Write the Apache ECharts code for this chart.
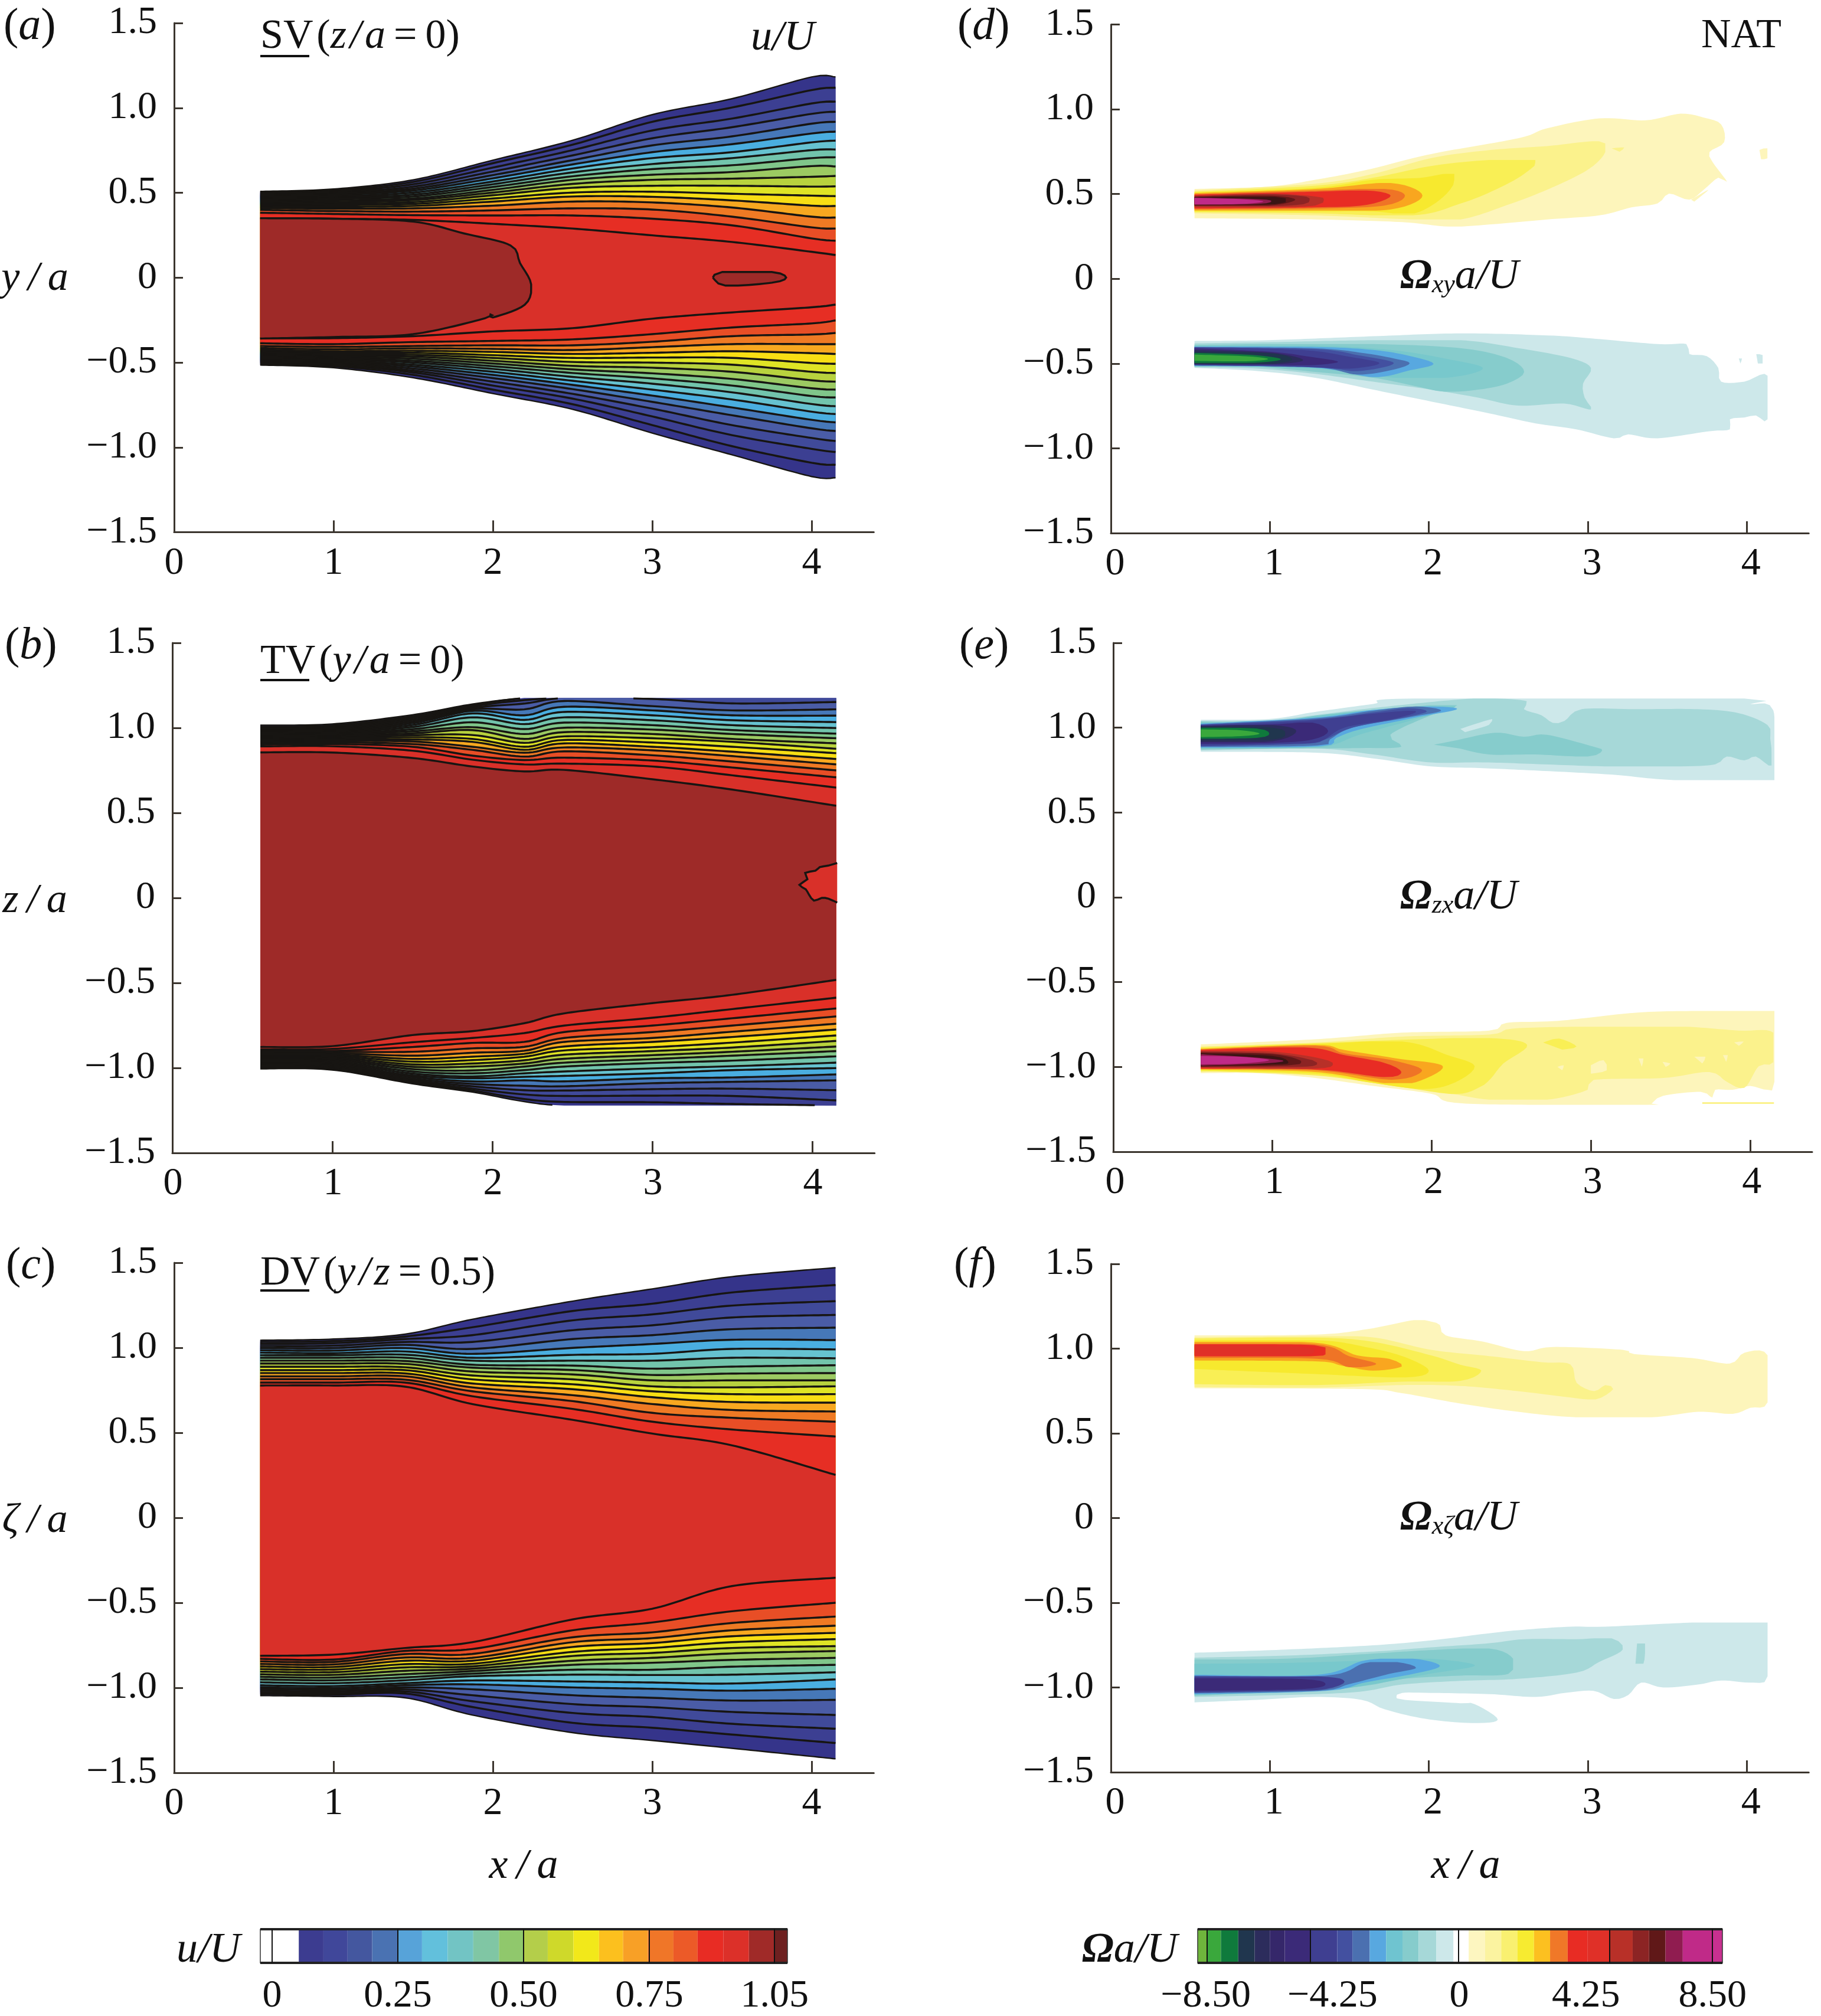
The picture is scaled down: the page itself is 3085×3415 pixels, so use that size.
<!DOCTYPE html>
<html><head><meta charset="utf-8">
<style>html,body{margin:0;padding:0;background:#fff}#c{width:3085px;height:3415px}</style>
<script src="https://cdn.jsdelivr.net/npm/echarts@6/dist/echarts.min.js"></script>
</head><body><div id="c"></div>
<script>
// ---------- colour levels ----------
const bandColors=['#35348a','#3c3f92','#404a9a','#4a5ca6','#4678b8','#4aaee0','#66c2d0','#72c4ac','#80c68a','#9cca62','#b8d23e','#dfe425','#f8de14','#f8a820','#ef7a24','#e84e26','#e62e24','#d93029','#9e2a28'];
const coreBrown='#9e2a28';
const posColors=[null,'#fdf5bb','#fbf28c','#f9ef55','#f7e92e','#f9a61f','#ef7426','#e82c24','#b83028','#8c2424','#601818','#3a1414','#901c50','#c02a88','#e03028'];
const negColors=[null,'#cde8ea','#a6d8d8','#86cccc','#78c8cc','#58a8e0','#4b70b0','#4350a0','#3f3f91','#3b2a78','#2c2c5c','#20364e','#0f7a3c','#3aa83c'];
const uBarEdges=[-0.0235,0.053,0.102,0.150,0.199,0.250,0.298,0.349,0.400,0.451,0.500,0.548,0.599,0.650,0.698,0.747,0.798,0.846,0.897,0.948,0.999,1.0246];
const uBarColors=['#ffffff','#3c3c90','#40479a','#44579f','#4a72b2','#57a3d9','#62c0dc','#72c4c4','#80c6a4','#90c86c','#b4ce4a','#cfd92a','#f2e81a','#fcc01e','#f8a026','#f07628','#ec5a28','#e82c24','#dc3029','#a02a28','#6e2020'];
const uBarTicks=[0,0.25,0.5,0.75,0.999];
const uBarLabels=['0','0.25','0.50','0.75','1.05'];
const wBarEdges=[-8.77,-8.46,-7.99,-7.41,-6.86,-6.35,-5.85,-4.99,-4.09,-3.58,-3.0,-2.45,-1.90,-1.36,-0.77,-0.19,0.32,0.87,1.41,1.96,2.51,3.05,3.64,4.3,5.04,5.82,6.37,6.92,7.5,8.48,8.83];
const wBarColors=['#6fb53c','#3aa83c','#0f7a3c','#20364e','#2c2c5c','#35276a','#3b2a78','#3f3f91','#4350a0','#4b70b0','#58a8e0','#6fc4d0','#86cccc','#a6d8d8','#cde8ea','#ffffff','#fdf6c0','#fbf3a0','#f9f070','#f7eb30','#fcc020','#f07828','#e82c24','#e03028','#b83028','#8c2424','#601818','#901c50','#c02a88','#c83090'];
const wBarTicks=[-8.46,-4.99,-0.02,5.04,8.48];
const wBarLabelAt=[-8.5,-4.25,0,4.25,8.5];

// ---------- axis ticks ----------
const xTicks=[0,1,2,3,4];
const yTicks=[-1.5,-1,-0.5,0,0.5,1,1.5];

// ---------- contour lines: one row per x station, [edge, line 1 ... line n] ----------
const svX=[0.54,1,1.5,2,2.5,3,3.5,4.0,4.15];
const svUpper=[
[.508,.501,.494,.487,.480,.473,.466,.459,.452,.445,.438,.431,.424,.417,.410,.399,.382,.350],
[.522,.515,.508,.501,.494,.487,.478,.471,.464,.455,.445,.436,.427,.417,.406,.392,.375,.347],
[.576,.564,.550,.536,.524,.513,.501,.489,.478,.466,.457,.445,.434,.422,.408,.389,.368,.340],
[.692,.674,.648,.625,.604,.585,.566,.550,.534,.517,.501,.485,.466,.448,.424,.396,.366,.317],
[.809,.783,.751,.720,.692,.667,.643,.620,.597,.576,.552,.529,.501,.478,.448,.408,.366,.289],
[.960,.918,.867,.821,.779,.739,.704,.669,.639,.606,.576,.541,.506,.476,.443,.401,.347,.249],
[1.054,1.002,.937,.886,.832,.786,.739,.704,.662,.622,.583,.541,.494,.455,.413,.359,.308,.210],
[1.182,1.105,1.026,.965,.907,.849,.797,.751,.704,.657,.594,.536,.483,.424,.359,.296,.231,.152],
[1.182,1.119,1.037,.977,.918,.860,.807,.755,.709,.655,.599,.538,.480,.422,.354,.289,.217,.133]];
const svLower=[
[-.515,-.508,-.501,-.494,-.487,-.480,-.473,-.466,-.459,-.452,-.445,-.438,-.431,-.424,-.415,-.403,-.387,-.357],
[-.531,-.522,-.515,-.508,-.501,-.494,-.487,-.480,-.473,-.466,-.459,-.452,-.443,-.434,-.422,-.408,-.392,-.357],
[-.590,-.573,-.559,-.548,-.536,-.524,-.513,-.501,-.490,-.478,-.466,-.455,-.443,-.431,-.417,-.403,-.380,-.345],
[-.683,-.660,-.636,-.613,-.592,-.573,-.555,-.538,-.522,-.506,-.490,-.473,-.457,-.438,-.420,-.399,-.373,-.317],
[-.776,-.746,-.713,-.685,-.657,-.632,-.608,-.585,-.562,-.541,-.520,-.497,-.473,-.450,-.427,-.399,-.364,-.298],
[-.916,-.869,-.818,-.772,-.732,-.695,-.660,-.625,-.594,-.564,-.531,-.501,-.471,-.443,-.410,-.378,-.333,-.242],
[-1.044,-.993,-.928,-.869,-.811,-.765,-.718,-.676,-.636,-.597,-.555,-.513,-.473,-.434,-.392,-.345,-.294,-.205],
[-1.172,-1.091,-1.009,-.945,-.888,-.838,-.790,-.745,-.698,-.652,-.605,-.555,-.503,-.445,-.392,-.335,-.270,-.175],
[-1.179,-1.103,-1.028,-.963,-.904,-.853,-.804,-.758,-.706,-.660,-.613,-.562,-.508,-.450,-.392,-.326,-.252,-.159]];
const svCoreBlob=[[.54,.350],[1,.347],[1.5,.33],[1.82,.26],[2.11,.19],[2.17,.086],[2.24,-.04],[2.2,-.16],[2.0,-.235],[1.985,-.217],[1.95,-.24],[1.5,-.333],[1,-.35],[.54,-.359]];
const svCoreIsland=[[3.38,0],[3.44,.033],[3.75,.033],[3.84,0],[3.75,-.03],[3.46,-.047],[3.38,0]];

const tvX=[0.55,1,1.5,1.875,2.2,2.45,3,3.5,4.15];
const tvUpper=[
[1.016,1.007,1.000,.993,.986,.979,.972,.965,.958,.951,.944,.937,.930,.923,.916,.909,.902,.891,.856],
[1.023,1.014,1.007,1.000,.993,.986,.979,.972,.965,.958,.951,.944,.937,.930,.923,.915,.905,.892,.855],
[1.077,1.068,1.058,1.048,1.038,1.028,1.017,1.005,.992,.980,.968,.957,.945,.932,.920,.905,.889,.866,.823],
[1.140,1.134,1.126,1.117,1.109,1.100,1.085,1.062,1.033,1.004,.987,.958,.935,.918,.889,.871,.837,.813,.773],
[1.175,1.175,1.163,1.143,1.109,1.074,1.047,1.022,.993,.964,.935,.912,.889,.871,.854,.831,.811,.785,.744],
[1.175,1.175,1.175,1.175,1.158,1.124,1.094,1.062,1.031,1.001,.975,.950,.929,.909,.885,.862,.825,.790,.753],
[1.175,1.175,1.175,1.170,1.128,1.103,1.074,1.045,1.016,.990,.964,.939,.914,.889,.868,.839,.808,.773,.698],
[1.175,1.175,1.175,1.144,1.103,1.074,1.045,1.016,.987,.964,.935,.918,.889,.860,.834,.802,.767,.721,.637],
[1.175,1.175,1.175,1.152,1.109,1.072,1.034,.999,.966,.939,.909,.877,.851,.817,.785,.750,.709,.649,.542]];
const tvLower=[
[-1.005,-.998,-.993,-.988,-.982,-.976,-.969,-.962,-.955,-.948,-.941,-.934,-.927,-.920,-.913,-.906,-.900,-.891,-.877],
[-1.012,-1.008,-1.003,-.998,-.992,-.986,-.978,-.970,-.962,-.954,-.946,-.938,-.930,-.922,-.914,-.906,-.900,-.888,-.872],
[-1.093,-1.086,-1.079,-1.072,-1.063,-1.053,-1.044,-1.033,-1.021,-1.007,-.993,-.979,-.963,-.947,-.928,-.905,-.877,-.849,-.807],
[-1.142,-1.133,-1.122,-1.108,-1.094,-1.079,-1.061,-1.050,-1.032,-1.015,-.992,-.974,-.954,-.934,-.911,-.885,-.853,-.824,-.784],
[-1.198,-1.183,-1.156,-1.131,-1.105,-1.073,-1.052,-1.032,-1.013,-.992,-.974,-.955,-.934,-.917,-.899,-.876,-.847,-.795,-.737],
[-1.221,-1.200,-1.165,-1.133,-1.108,-1.079,-1.047,-1.021,-.992,-.969,-.946,-.922,-.897,-.874,-.847,-.824,-.789,-.751,-.679],
[-1.221,-1.202,-1.163,-1.125,-1.090,-1.061,-1.032,-1.003,-.971,-.948,-.925,-.901,-.878,-.847,-.824,-.789,-.751,-.705,-.619],
[-1.221,-1.212,-1.165,-1.122,-1.082,-1.056,-1.013,-.990,-.957,-.928,-.905,-.880,-.851,-.818,-.787,-.751,-.708,-.654,-.570],
[-1.221,-1.221,-1.191,-1.131,-1.073,-1.038,-1.001,-.969,-.932,-.901,-.874,-.841,-.809,-.774,-.740,-.697,-.650,-.587,-.482]];
const tvCoreHole=[[4.156,.205],[4.10,.19],[4.047,.181],[4.02,.16],[3.956,.147],[3.97,.11],[3.92,.077],[3.96,.05],[3.98,.019],[4.011,-.016],[4.06,.0],[4.102,-.005],[4.156,-.028]];

const dvX=[0.54,1,1.45,1.87,2.5,3,3.5,4.15];
const dvUpper=[
[1.044,1.034,1.022,1.010,.998,.985,.971,.956,.941,.924,.907,.888,.868,.851,.832,.815,.795,.778],
[1.051,1.039,1.027,1.012,.998,.983,.968,.956,.941,.924,.907,.888,.868,.851,.832,.815,.795,.778],
[1.080,1.066,1.051,1.034,1.017,.998,.978,.959,.941,.922,.905,.885,.868,.849,.832,.812,.795,.771],
[1.167,1.120,1.074,1.034,.993,.964,.941,.924,.900,.883,.860,.837,.814,.790,.767,.744,.715,.669],
[1.274,1.216,1.161,1.103,1.051,.999,.958,.924,.895,.869,.843,.814,.785,.756,.721,.686,.640,.576],
[1.346,1.259,1.196,1.132,1.074,1.022,.964,.924,.877,.840,.808,.773,.744,.709,.669,.617,.565,.495],
[1.418,1.325,1.248,1.178,1.109,1.047,.993,.941,.889,.848,.808,.767,.727,.681,.634,.588,.519,.426],
[1.471,1.369,1.274,1.193,1.118,1.045,.990,.938,.897,.851,.808,.773,.727,.677,.625,.565,.478,.252]];
const dvLower=[
[-1.046,-1.036,-1.027,-1.017,-1.007,-.997,-.985,-.968,-.951,-.936,-.921,-.905,-.890,-.875,-.860,-.845,-.830,-.812],
[-1.051,-1.041,-1.032,-1.022,-1.012,-1.002,-.990,-.973,-.956,-.940,-.924,-.908,-.893,-.878,-.863,-.848,-.834,-.805],
[-1.059,-1.034,-1.022,-1.010,-.998,-.985,-.973,-.956,-.939,-.920,-.900,-.880,-.861,-.841,-.822,-.802,-.783,-.766],
[-1.160,-1.113,-1.079,-1.044,-1.009,-.980,-.957,-.932,-.917,-.902,-.888,-.874,-.859,-.841,-.824,-.801,-.772,-.732],
[-1.264,-1.206,-1.148,-1.096,-1.044,-.998,-.963,-.923,-.894,-.865,-.841,-.813,-.789,-.760,-.732,-.703,-.662,-.598],
[-1.310,-1.235,-1.172,-1.114,-1.059,-1.006,-.969,-.925,-.894,-.853,-.824,-.795,-.766,-.737,-.708,-.674,-.616,-.535],
[-1.356,-1.275,-1.212,-1.142,-1.075,-1.017,-.975,-.923,-.876,-.836,-.798,-.766,-.732,-.697,-.662,-.619,-.550,-.402],
[-1.418,-1.325,-1.241,-1.160,-1.071,-1.006,-.951,-.909,-.865,-.824,-.784,-.755,-.714,-.677,-.635,-.581,-.500,-.353]];

// ---------- vorticity contours: [colour level, [x,y], ...] from outside to inside ----------
const dPos=[
[1,[.526,.530],[.993,.544],[1.285,.584],[1.613,.643],[2.015,.736],[2.562,.829],[2.745,.888],[3.073,.946],[3.365,.935],[3.584,.974],[3.73,.951],[3.839,.911],[3.858,.806],[3.766,.748],[3.785,.689],[3.876,.572],[3.821,.596],[3.73,.526],[3.639,.467],[3.511,.502],[3.438,.444],[3.274,.421],[3.073,.374],[2.745,.350],[2.38,.320],[2.124,.308],[1.832,.334],[1.285,.350],[.526,.357]],
[1,[4.08,.76],[4.13,.77],[4.13,.71],[4.09,.705]],
[1,[3.65,.467],[3.76,.526],[3.67,.455]],
[2,[.526,.521],[1.285,.561],[1.65,.619],[2.02,.713],[2.38,.759],[2.745,.783],[3.07,.811],[3.11,.748],[3.0,.643],[2.75,.528],[2.49,.434],[2.2,.35],[1.9,.35],[1.285,.374],[.526,.386]],
[2,[3.15,.77],[3.23,.775],[3.2,.75]],
[3,[.526,.514],[1.285,.549],[1.65,.596],[2.02,.666],[2.38,.701],[2.67,.701],[2.6,.619],[2.42,.526],[2.2,.444],[1.9,.374],[1.285,.386],[.526,.393]],
[4,[.526,.51],[1.285,.537],[1.65,.584],[1.94,.595],[2.16,.619],[2.11,.50],[1.91,.386],[1.65,.397],[1.285,.397],[.526,.397]],
[5,[.526,.505],[1.285,.53],[1.76,.565],[1.96,.49],[1.76,.409],[1.285,.402],[.526,.402]],
[6,[.526,.50],[1.285,.521],[1.72,.53],[1.85,.49],[1.72,.432],[1.285,.414],[.526,.409]],
[7,[.526,.496],[1.285,.514],[1.61,.521],[1.76,.49],[1.61,.436],[1.285,.421],[.526,.414]],
[8,[.526,.491],[.99,.502],[1.285,.486],[1.34,.467],[1.285,.432],[.99,.421],[.526,.421]],
[9,[.526,.486],[.99,.498],[1.23,.484],[1.25,.463],[1.21,.44],[.99,.428],[.526,.428]],
[10,[.526,.484],[.99,.49],[1.16,.467],[.99,.432],[.526,.432]],
[11,[.526,.481],[1.03,.483],[1.10,.463],[1.03,.44],[.526,.435]],
[12,[.526,.479],[.92,.47],[1.01,.458],[.92,.441],[.526,.437]],
[13,[.526,.477],[.81,.47],[.96,.456],[.81,.441],[.526,.439]]];
const dNeg=[
[1,[.526,-.367],[.993,-.362],[1.65,-.339],[2.197,-.322],[2.745,-.334],[3.0,-.35],[3.438,-.385],[3.62,-.385],[3.639,-.444],[3.748,-.456],[3.821,-.526],[3.839,-.607],[3.985,-.607],[4.131,-.572],[4.131,-.829],[4.058,-.806],[3.985,-.818],[3.894,-.829],[3.894,-.888],[3.766,-.899],[3.438,-.941],[3.255,-.918],[3.164,-.941],[2.927,-.888],[2.672,-.853],[2.38,-.794],[2.015,-.724],[1.65,-.654],[1.285,-.584],[.92,-.544],[.526,-.526]],
[1,[4.06,-.445],[4.10,-.45],[4.10,-.50],[4.07,-.50]],
[1,[3.95,-.47],[3.97,-.47],[3.96,-.50]],
[2,[.526,-.381],[.993,-.374],[1.65,-.362],[2.197,-.362],[2.562,-.409],[2.89,-.467],[3.02,-.526],[2.97,-.619],[2.98,-.701],[3.02,-.771],[2.85,-.736],[2.56,-.748],[2.31,-.701],[2.015,-.654],[1.65,-.607],[1.285,-.561],[.92,-.53],[.526,-.522]],
[3,[.526,-.39],[.993,-.385],[1.65,-.385],[2.197,-.409],[2.49,-.467],[2.6,-.549],[2.49,-.619],[2.31,-.654],[2.1,-.666],[1.9,-.63],[1.65,-.584],[1.285,-.549],[.92,-.52],[.526,-.518]],
[4,[.526,-.395],[1.285,-.395],[1.76,-.42],[2.1,-.47],[2.34,-.526],[2.15,-.58],[1.8,-.585],[1.285,-.53],[.526,-.516]],
[5,[.526,-.40],[1.285,-.402],[1.65,-.42],[1.88,-.455],[2.03,-.502],[1.88,-.54],[1.65,-.58],[1.285,-.525],[.526,-.514]],
[6,[.526,-.402],[1.285,-.41],[1.6,-.44],[1.78,-.47],[1.88,-.498],[1.78,-.535],[1.55,-.565],[1.285,-.522],[.526,-.512]],
[7,[.526,-.404],[1.285,-.415],[1.55,-.45],[1.78,-.498],[1.55,-.545],[1.285,-.52],[.526,-.51]],
[8,[.526,-.405],[1.2,-.42],[1.5,-.46],[1.69,-.498],[1.5,-.53],[1.2,-.52],[.526,-.508]],
[9,[.526,-.41],[1.0,-.43],[1.25,-.46],[1.43,-.49],[1.25,-.51],[1.0,-.507],[.526,-.506]],
[10,[.526,-.42],[1.0,-.435],[1.21,-.48],[1.0,-.505],[.526,-.504]],
[11,[.526,-.43],[1.0,-.44],[1.14,-.475],[1.0,-.50],[.526,-.502]],
[12,[.526,-.437],[.9,-.45],[1.07,-.475],[.9,-.495],[.526,-.496]],
[13,[.526,-.447],[.85,-.457],[.99,-.473],[.85,-.487],[.526,-.484]]];
const eNeg=[
[1,[.55,1.047],[.976,1.051],[1.268,1.093],[1.632,1.14],[1.887,1.172],[3.964,1.172],[4.0,1.14],[4.146,1.102],[4.153,.702],[4.109,.691],[3.526,.691],[3.089,.726],[2.361,.760],[1.996,.772],[1.632,.819],[1.268,.853],[.55,.858]],
[2,[.55,1.04],[.976,1.044],[1.268,1.074],[1.632,1.116],[2.178,1.167],[2.397,1.172],[2.597,1.156],[2.579,1.109],[2.689,1.074],[2.761,1.028],[2.834,1.04],[2.943,1.109],[3.271,1.109],[3.672,1.109],[3.927,1.086],[4.109,1.016],[4.127,.935],[4.135,.777],[4.036,.83],[3.964,.807],[3.854,.83],[3.781,.784],[3.563,.772],[3.089,.772],[2.361,.795],[1.996,.795],[1.632,.842],[1.268,.877],[.55,.866]],
[1,[2.18,.993],[2.38,1.051],[2.36,1.016],[2.21,.974]],
[3,[.55,1.036],[.976,1.03],[1.268,1.063],[1.632,1.102],[1.996,1.133],[2.16,1.133],[1.996,1.074],[1.74,.958],[1.81,.888],[1.55,.88],[1.268,.878],[.55,.872]],
[3,[2.015,.90],[2.142,.923],[2.397,.97],[2.579,.947],[2.725,.958],[3.016,.888],[3.071,.865],[2.98,.83],[2.652,.842],[2.361,.842],[2.178,.877]],
[4,[.55,1.03],[.976,1.03],[1.268,1.07],[1.632,1.105],[1.9,1.12],[2.15,1.125],[1.9,1.05],[1.55,.96],[1.4,.905],[1.25,.885],[.55,.878]],
[5,[.55,1.024],[1.268,1.06],[1.632,1.105],[1.95,1.125],[2.16,1.11],[1.9,1.06],[1.55,.99],[1.40,.94],[1.3,.89],[.55,.882]],
[6,[.55,1.02],[1.268,1.055],[1.632,1.10],[1.9,1.125],[2.06,1.10],[1.85,1.06],[1.5,1.0],[1.36,.93],[1.28,.895],[.55,.886]],
[7,[.55,1.018],[1.268,1.05],[1.632,1.09],[1.85,1.115],[1.97,1.095],[1.8,1.055],[1.5,1.0],[1.33,.93],[1.2,.905],[.55,.89]],
[8,[.55,1.015],[1.2,1.04],[1.6,1.08],[1.85,1.10],[1.9,1.09],[1.75,1.05],[1.45,1.0],[1.3,.92],[1.1,.905],[.55,.895]],
[9,[.55,1.012],[1.0,1.02],[1.25,1.03],[1.35,.98],[1.25,.93],[1.0,.91],[.55,.905]],
[10,[.55,1.01],[1.0,1.015],[1.15,.98],[1.0,.92],[.55,.915]],
[11,[.55,1.005],[1.0,1.0],[1.08,.965],[1.0,.93],[.55,.925]],
[12,[.55,1.0],[.9,.995],[.98,.965],[.9,.94],[.55,.935]],
[13,[.55,.99],[.8,.985],[.92,.965],[.8,.95],[.55,.945]]];
const ePos=[
[1,[.55,-.867],[1.268,-.837],[1.814,-.798],[2.361,-.786],[2.47,-.74],[2.798,-.728],[3.271,-.681],[3.636,-.67],[4.109,-.67],[4.153,-.674],[4.153,-1.088],[4.109,-1.135],[4.0,-1.112],[3.891,-1.135],[3.781,-1.135],[3.763,-1.181],[3.69,-1.147],[3.454,-1.17],[3.381,-1.216],[3.344,-1.223],[2.215,-1.216],[1.996,-1.158],[1.632,-1.112],[1.268,-1.065],[.903,-1.037],[.55,-1.037]],
[2,[3.7,-1.208],[4.15,-1.208],[4.15,-1.218],[3.7,-1.218]],
[2,[.55,-.879],[1.268,-.856],[1.814,-.821],[2.361,-.809],[2.506,-.774],[2.907,-.763],[3.271,-.763],[3.599,-.763],[3.927,-.786],[4.146,-.798],[4.146,-.972],[4.055,-.995],[3.964,-1.123],[3.854,-1.088],[3.745,-1.03],[3.454,-1.065],[3.016,-1.077],[2.98,-1.135],[2.725,-1.193],[2.361,-1.193],[1.996,-1.135],[1.632,-1.088],[1.268,-1.042],[.903,-1.019],[.55,-1.03]],
[1,[3.0,-.99],[3.08,-.96],[3.1,-1.02],[3.0,-1.04]],[1,[2.79,-1.0],[2.83,-.99],[2.82,-1.02]],[1,[3.3,-.95],[3.33,-.95],[3.32,-1.0]],[1,[3.45,-.97],[3.5,-.98],[3.47,-1.0]],[1,[3.65,-.94],[3.72,-.94],[3.7,-.98]],[1,[3.83,-.93],[3.86,-.93],[3.85,-.97]],[1,[3.9,-.855],[3.96,-.85],[3.93,-.875]],
[3,[.55,-.884],[1.268,-.86],[1.814,-.84],[2.361,-.83],[2.6,-.87],[2.45,-.98],[2.37,-1.07],[2.3,-1.12],[2.15,-1.16],[1.814,-1.12],[1.268,-1.05],[.55,-1.025]],
[3,[2.7,-.856],[2.8,-.833],[2.91,-.88],[2.82,-.898]],
[4,[.55,-.89],[1.268,-.865],[1.814,-.85],[2.1,-.93],[2.27,-.995],[2.15,-1.09],[1.95,-1.13],[1.6,-1.09],[1.268,-1.04],[.55,-1.02]],
[5,[.55,-.893],[1.268,-.87],[1.45,-.90],[1.78,-.95],[2.07,-.995],[1.9,-1.09],[1.7,-1.095],[1.268,-1.03],[.55,-1.015]],
[6,[.55,-.896],[1.268,-.875],[1.45,-.92],[1.75,-.96],[1.94,-1.02],[1.75,-1.075],[1.268,-1.02],[.55,-1.012]],
[7,[.55,-.90],[1.2,-.885],[1.45,-.93],[1.7,-.975],[1.81,-1.03],[1.7,-1.06],[1.268,-1.015],[.55,-1.01]],
[8,[.55,-.905],[1.0,-.91],[1.3,-.95],[1.38,-.985],[1.25,-1.01],[.55,-1.005]],
[9,[.55,-.91],[1.0,-.92],[1.25,-.96],[1.28,-.985],[1.15,-1.0],[.55,-1.0]],
[10,[.55,-.915],[1.0,-.925],[1.18,-.965],[1.1,-.99],[.55,-.998]],
[11,[.55,-.92],[1.0,-.935],[1.1,-.975],[1.0,-.985],[.55,-.995]],
[12,[.55,-.925],[.9,-.945],[1.07,-.965],[.9,-.982],[.55,-.992]],
[13,[.55,-.935],[.8,-.94],[.98,-.96],[.8,-.98],[.55,-.985]]];
const fPos=[
[1,[.526,1.078],[1.285,1.083],[1.613,1.115],[1.905,1.168],[2.015,1.159],[2.07,1.139],[2.106,1.078],[2.343,1.041],[2.599,.985],[2.781,1.01],[3.219,.993],[3.292,.968],[3.657,.944],[3.894,.912],[3.985,.976],[4.131,.961],[4.131,.683],[4.022,.651],[3.912,.615],[3.693,.627],[3.401,.595],[2.927,.595],[2.562,.627],[2.197,.676],[1.832,.737],[1.577,.761],[.526,.766]],
[2,[.526,1.066],[1.285,1.073],[1.65,1.066],[2.015,.993],[2.38,.956],[2.71,.92],[2.89,.907],[2.93,.798],[3.04,.749],[3.11,.785],[3.16,.761],[3.05,.70],[2.89,.712],[2.56,.749],[2.197,.78],[1.83,.785],[1.285,.77],[.526,.773]],
[3,[.526,1.06],[1.285,1.065],[1.65,1.04],[2.015,.96],[2.197,.905],[2.33,.87],[2.2,.81],[1.83,.805],[1.285,.785],[.526,.79]],
[4,[.526,1.05],[1.285,1.05],[1.6,1.01],[1.85,.95],[2.0,.87],[1.85,.83],[1.285,.85],[.526,.88]],
[5,[.526,1.04],[1.285,1.035],[1.55,.96],[1.75,.94],[1.83,.895],[1.65,.87],[1.45,.90],[1.285,.925],[.526,.93]],
[6,[.526,1.03],[1.285,1.025],[1.5,.955],[1.67,.91],[1.5,.89],[1.3,.94],[.526,.945]],
[7,[.526,1.025],[1.28,1.02],[1.35,.975],[1.25,.955],[.526,.955]],
[14,[.526,1.02],[1.2,1.01],[1.28,.98],[1.15,.96],[.526,.96]]];
const fNeg=[
[1,[.526,-.795],[1.102,-.776],[1.65,-.751],[2.015,-.722],[2.38,-.68],[2.599,-.659],[2.891,-.641],[3.109,-.641],[3.657,-.617],[3.949,-.617],[4.131,-.617],[4.131,-.934],[4.04,-.971],[3.839,-.959],[3.693,-.983],[3.474,-1.0],[3.336,-.971],[3.255,-1.044],[3.164,-1.068],[3.036,-1.02],[2.854,-1.032],[2.672,-1.056],[2.38,-1.039],[2.015,-1.032],[1.832,-1.032],[1.796,-1.056],[1.85,-1.073],[2.197,-1.093],[2.288,-1.098],[2.434,-1.19],[2.27,-1.21],[1.978,-1.185],[1.723,-1.129],[1.577,-1.073],[1.285,-1.056],[.92,-1.073],[.526,-1.088]],
[2,[.526,-.824],[1.102,-.812],[1.65,-.788],[2.015,-.763],[2.38,-.739],[2.6,-.715],[2.93,-.715],[3.15,-.71],[3.22,-.776],[3.07,-.85],[2.93,-.912],[2.56,-.949],[2.197,-.961],[1.83,-.983],[1.47,-1.032],[.526,-1.056]],
[2,[3.31,-.74],[3.36,-.74],[3.35,-.86],[3.3,-.86]],
[3,[.526,-.835],[1.1,-.83],[1.65,-.80],[2.0,-.78],[2.38,-.77],[2.53,-.83],[2.5,-.92],[2.197,-.93],[1.83,-.95],[1.5,-1.0],[.526,-1.05]],
[4,[.526,-.86],[1.1,-.855],[1.65,-.84],[2.0,-.83],[2.29,-.87],[2.0,-.92],[1.65,-.98],[1.3,-1.02],[.526,-1.045]],
[5,[.526,-.925],[1.3,-.925],[1.6,-.84],[1.9,-.83],[2.07,-.873],[1.9,-.92],[1.6,-.97],[1.35,-1.02],[.526,-1.04]],
[6,[.526,-.93],[1.35,-.93],[1.6,-.855],[1.8,-.85],[1.92,-.885],[1.75,-.92],[1.5,-.98],[1.3,-1.02],[.526,-1.035]],
[8,[.526,-.935],[1.3,-.935],[1.47,-.965],[1.35,-1.01],[1.1,-1.02],[.526,-1.03]],
[9,[.526,-.945],[1.2,-.95],[1.35,-.98],[1.2,-1.01],[.526,-1.02]]];

// ---------- layout (pixels of the page) ----------
const panels=[
 {left:295,top:39,h:862.5,unit:270,lblShift:0,kind:'band',xs:svX,up:svUpper,lo:svLower,extra:[[svCoreBlob,coreBrown],[svCoreIsland,coreBrown]]},
 {left:1882,top:41.5,h:861.5,unit:269.3,lblShift:14,kind:'blob',pos:dPos,neg:dNeg},
 {left:292,top:1089,h:864,unit:271,lblShift:2,kind:'band',xs:tvX,up:tvUpper,lo:tvLower,extra:[[tvCoreHole,'#d93029']]},
 {left:1886,top:1089,h:862,unit:269.7,lblShift:6,kind:'blob',pos:ePos,neg:eNeg},
 {left:295,top:2139,h:864,unit:270,lblShift:0,kind:'band',xs:dvX,up:dvUpper,lo:dvLower,extra:[]},
 {left:1882,top:2141,h:861,unit:269.3,lblShift:14,kind:'blob',pos:fPos,neg:fNeg}];
const XMAX=4.39;
const SERIF='"Liberation Serif","Times New Roman",serif';
const AXC='#3b352e';
const LBL=66;

function spline(pts,box){
  const out=[];const n=pts.length;
  for(let i=0;i<n-1;i++){
    const p0=pts[Math.max(i-1,0)],p1=pts[i],p2=pts[i+1],p3=pts[Math.min(i+2,n-1)];
    const steps=Math.max(2,Math.min(30,Math.round(Math.hypot(p2[0]-p1[0],p2[1]-p1[1])/8)));
    for(let k=0;k<steps;k++){
      const t=k/steps,t2=t*t,t3=t2*t;
      out.push([
        .5*(2*p1[0]+(p2[0]-p0[0])*t+(2*p0[0]-5*p1[0]+4*p2[0]-p3[0])*t2+(3*p1[0]-p0[0]-3*p2[0]+p3[0])*t3),
        .5*(2*p1[1]+(p2[1]-p0[1])*t+(2*p0[1]-5*p1[1]+4*p2[1]-p3[1])*t2+(3*p1[1]-p0[1]-3*p2[1]+p3[1])*t3)]);
    }
  }
  out.push(pts[n-1].slice());
  if(box) out.forEach(p=>{p[0]=Math.min(box[1],Math.max(box[0],p[0]));p[1]=Math.min(box[3],Math.max(box[2],p[1]));});
  return out;
}
function bboxOf(pts){const xs=pts.map(p=>p[0]),ys=pts.map(p=>p[1]);return [Math.min(...xs),Math.max(...xs),Math.min(...ys),Math.max(...ys)];}

function shapesFor(p){
  const s=[];
  if(p.kind==='band'){
    const nL=p.up[0].length;
    const col=(tab,i)=>tab.map((r,k)=>[p.xs[k],r[i]]);
    for(let i=0;i<nL;i++) s.push({fill:bandColors[i],u:col(p.up,i),l:col(p.lo,i)});
    for(let i=0;i<nL;i++){s.push({line:col(p.up,i),edge:i===0});s.push({line:col(p.lo,i),edge:i===0});}
    p.extra.forEach(e=>s.push({poly:e[0],color:e[1],stroke:true}));
  }else{
    p.pos.concat(p.neg).forEach(b=>{
      const isNeg=p.neg.indexOf(b)>=0;
      s.push({poly:b.slice(1),color:(isNeg?negColors:posColors)[b[0]]});
    });
  }
  return s;
}
function makeRender(shapes,clipY){
  return function(params,api){
    const sh=shapes[params.dataIndex];
    const c=a=>api.coord(a);
    if(sh.fill){
      const u=spline(sh.u.map(c)),l=spline(sh.l.map(c));
      const pts=u.concat(l.reverse()).map(q=>[q[0],Math.min(clipY[1],Math.max(clipY[0],q[1]))]);
      return {type:'polygon',shape:{points:pts},style:{fill:sh.fill,stroke:null}};
    }
    if(sh.line){
      const raw=spline(sh.line.map(c));
      const runs=[];let cur=[];
      raw.forEach(q=>{
        const out=q[1]<=clipY[0]+.5||q[1]>=clipY[1]-.5;
        if(out){ if(cur.length>1) runs.push(cur); cur=[]; }
        else cur.push(q);
      });
      if(cur.length>1) runs.push(cur);
      return {type:'group',children:runs.map(r=>({type:'polyline',shape:{points:r},style:{stroke:'#171512',lineWidth:sh.edge?2.4:3.4,fill:null}}))};
    }
    const px=sh.poly.map(c);
    const pts=spline(px,bboxOf(px));
    const kids=[{type:'polygon',shape:{points:pts},style:{fill:sh.color,stroke:null}}];
    if(sh.stroke) kids.push({type:'polyline',shape:{points:pts},style:{stroke:'#171512',lineWidth:3.4,fill:null}});
    return {type:'group',children:kids};
  };
}

const grids=[],xAxes=[],yAxes=[],series=[];
panels.forEach((p,i)=>{
  grids.push({left:p.left,top:p.top,width:XMAX*p.unit,height:p.h,containLabel:false});
  xAxes.push({gridIndex:i,type:'value',min:0,max:XMAX,splitLine:{show:false},
    axisLine:{show:true,onZero:false,lineStyle:{color:AXC,width:3}},
    axisTick:{show:true,inside:true,length:20,lineStyle:{color:AXC,width:3},customValues:xTicks},
    axisLabel:{customValues:xTicks,fontFamily:SERIF,fontSize:LBL,color:'#111',margin:20,padding:[0,0,0,p.lblShift],formatter:v=>String(v)}});
  yAxes.push({gridIndex:i,type:'value',min:-1.5,max:1.5,interval:.5,splitLine:{show:false},
    axisLine:{show:true,onZero:false,lineStyle:{color:AXC,width:3}},
    axisTick:{show:true,inside:true,length:15,lineStyle:{color:AXC,width:3}},
    axisLabel:{fontFamily:SERIF,fontSize:LBL,color:'#111',margin:29,padding:[10,0,0,0],formatter:v=>v===0?'0':(v<0?'\u2212':'')+Math.abs(v).toFixed(1)}});
  const shapes=shapesFor(p);
  const top=p===panels[2]?p.top+p.h*(1.5-1.175)/3:-1e5;
  const bot=p===panels[2]?p.top+p.h*(1.5+1.221)/3:1e5;
  series.push({type:'custom',xAxisIndex:i,yAxisIndex:i,coordinateSystem:'cartesian2d',silent:true,animation:false,clip:false,progressive:0,z:2,
    renderItem:makeRender(shapes,[top,bot]),data:shapes.map((_,k)=>[k])});
});

// colour bars
function addBar(left,right,edges,colors,tickVals,labelVals,fmt){
  const i=grids.length;
  const min=edges[0],max=edges[edges.length-1];
  grids.push({left,top:3268,width:right-left,height:57});
  xAxes.push({gridIndex:i,type:'value',min,max,z:10,splitLine:{show:false},axisLine:{show:false},
    axisTick:{show:true,inside:true,length:57,lineStyle:{color:'#111',width:2},customValues:tickVals},
    axisLabel:{customValues:labelVals,fontFamily:SERIF,fontSize:LBL,color:'#111',margin:24,formatter:fmt}});
  yAxes.push({gridIndex:i,type:'value',min:0,max:1,show:false});
  const n=colors.length;
  series.push({type:'custom',xAxisIndex:i,yAxisIndex:i,coordinateSystem:'cartesian2d',silent:true,animation:false,progressive:0,z:2,clip:false,
    data:colors.map((_,k)=>[k]).concat([[n]]),
    renderItem:function(params,api){
      const k=params.dataIndex;
      const a=api.coord([k<n?edges[k]:min,1]),b=api.coord([k<n?edges[k+1]:max,0]);
      if(k<n) return {type:'rect',shape:{x:a[0],y:a[1],width:b[0]-a[0],height:b[1]-a[1]},style:{fill:colors[k]}};
      return {type:'group',children:[
        {type:'rect',shape:{x:a[0],y:a[1],width:b[0]-a[0],height:b[1]-a[1]},style:{fill:null,stroke:'#333',lineWidth:1.5}},
        {type:'rect',shape:{x:a[0],y:a[1]-2,width:b[0]-a[0],height:4},style:{fill:'#222'}},
        {type:'rect',shape:{x:a[0],y:b[1]-2,width:b[0]-a[0],height:4},style:{fill:'#222'}}]};
    }});
}
addBar(441,1334,uBarEdges,uBarColors,uBarTicks,uBarTicks,v=>uBarLabels[uBarTicks.indexOf(v)]);
addBar(2029,2918,wBarEdges,wBarColors,wBarTicks,wBarLabelAt,v=>v===0?'0':(v<0?'\u2212':'')+Math.abs(v).toFixed(2));

// texts
const rich={
  p:{fontFamily:SERIF,fontSize:76,color:'#111'},
  q:{fontFamily:SERIF,fontSize:76,fontStyle:'italic',color:'#111'},
  i:{fontFamily:SERIF,fontSize:72,fontStyle:'italic',color:'#111'},
  k:{fontFamily:SERIF,fontSize:70,fontStyle:'italic',color:'#111'},
  t:{fontFamily:SERIF,fontSize:70,color:'#111'},
  j:{fontFamily:SERIF,fontSize:70,fontStyle:'italic',color:'#111'},
  o:{fontFamily:SERIF,fontSize:72,fontStyle:'italic',fontWeight:'bold',color:'#111'},
  s:{fontFamily:SERIF,fontSize:44,fontStyle:'italic',color:'#111',verticalAlign:'bottom'}
};
function T(x,y,text,align){return {type:'text',x,y,z:50,silent:true,style:{text,rich,textAlign:align||'left',textVerticalAlign:'middle',fill:'#111'}};}
function UL(x,y,w){return {type:'rect',z:50,silent:true,shape:{x,y,width:w,height:4},style:{fill:'#111'}};}
const HS='\u200a',TS='\u2009';
const texts=[
 T(6,46,'{p|(}{q|a}{p|)}'),T(8,1095,'{p|(}{q|b}{p|)}'),T(10,2145,'{p|(}{q|c}{p|)}'),
 T(1622,46,'{p|(}{q|d}{p|)}'),T(1625,1095,'{p|(}{q|e}{p|)}'),T(1616,2145,'{p|(}{q|f}{p|)}'),
 T(59,473,'{k|y'+TS+'/'+TS+'a}','center'),T(59,1527,'{k|z'+TS+'/'+TS+'a}','center'),T(59,2577,'{k|\u03b6'+TS+'/'+TS+'a}','center'),
 T(441,63,'{t|SV}{t|\u200a(}{j|z'+HS+'/'+HS+'a}{t|\u2009=\u2009}{t|0)}'),UL(441,93,83),
 T(441,1122,'{t|TV}{t|\u200a(}{j|y'+HS+'/'+HS+'a}{t|\u2009=\u2009}{t|0)}'),UL(441,1150,83),
 T(441,2158,'{t|DV}{t|\u200a(}{j|y'+HS+'/'+HS+'z}{t|\u2009=\u2009}{t|0.5)}'),UL(441,2184,83),
 T(1272,65,'{i|u/U}'),
 T(3018,62,'{t|NAT}','right'),
 T(2372,469,'{o|\u03a9}{s|xy}{i|a/U}'),
 T(2372,1520,'{o|\u03a9}{s|zx}{i|a/U}'),
 T(2372,2572,'{o|\u03a9}{s|x\u03b6}{i|a/U}'),
 T(887,3162,'{i|x'+TS+'/'+TS+'a}','center'),T(2483,3162,'{i|x'+TS+'/'+TS+'a}','center'),
 T(299,3304,'{i|u/U}'),T(1833,3304,'{o|\u03a9}{i|a/U}')
];

const chart=echarts.init(document.getElementById('c'),null,{renderer:'canvas',width:3085,height:3415,devicePixelRatio:1});
chart.setOption({animation:false,backgroundColor:'#fff',grid:grids,xAxis:xAxes,yAxis:yAxes,series,graphic:{elements:texts}});
</script></body></html>
